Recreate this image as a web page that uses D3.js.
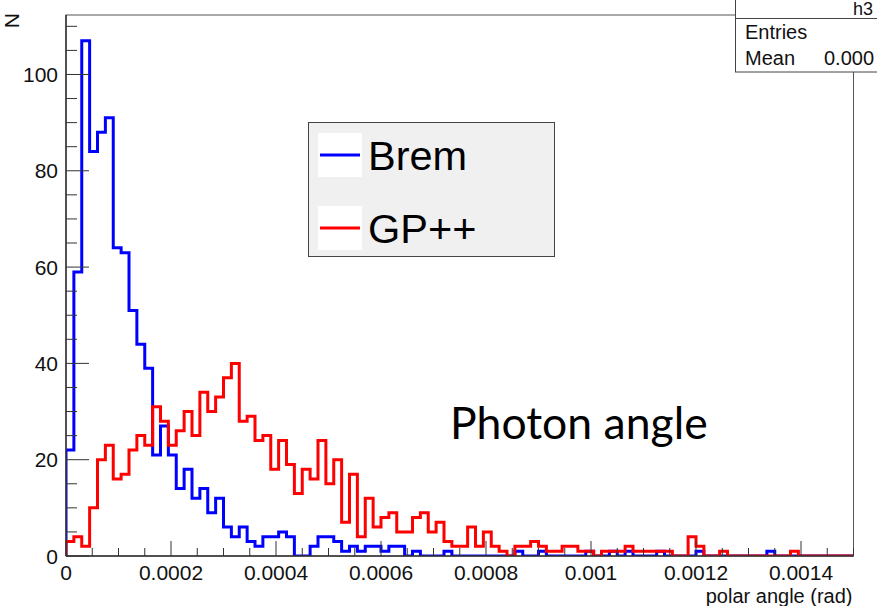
<!DOCTYPE html>
<html><head><meta charset="utf-8">
<script src="https://cdn.jsdelivr.net/npm/d3@7"></script>
<style>body{margin:0;background:#fff}svg{display:block}</style>
</head><body>
<svg id="c" width="877" height="606"></svg>
<script>
// ---- data ----
const nBins = 100;
const xMin = 0, xMax = 0.0015;
const yMax = 112.35;
const xTickValues = [0, 0.0002, 0.0004, 0.0006, 0.0008, 0.001, 0.0012, 0.0014];
const xTickLabels = ["0", "0.0002", "0.0004", "0.0006", "0.0008", "0.001", "0.0012", "0.0014"];
const yTickValues = [0, 20, 40, 60, 80, 100];
const yTickLabels = ["0", "20", "40", "60", "80", "100"];
const seriesNames = ["Brem", "GP++"];
const seriesColors = ["#0000ff", "#ff0000"];
const bremCounts = [22,59,107,84,88,91,64,63,51,44, 39,21,27,21,14,18,12,14,9,12,
  6,4,6,3,2,4,4,5,4,0, 0,2,4,4,3,1,2,1,2,2, 1,2,2,0,1,0,0,0,1,0,
  0,0,0,0,0,0,0,1,0,0, 1,0,0,0,0,0,1,0,0,1, 0,1,0,0,0,1,0,0,0,0,
  1,0,0,0,0,0,0,0,0,1, 0,0,0,0,0,0,0,0,0,0];
const gppCounts = [3,4,2,10,20,23,16,17,22,25, 23,31,28,23,26,30,25,34,30,33,
  37,40,28,29,24,25,18,24,19,13, 18,16,24,15,20,7,17,4,12,6, 8,9,5,5,8,9,5,7,3,2,
  2,6,2,5,2,1,0,2,2,3, 2,1,1,2,2,1,1,0,1,1, 1,2,1,1,1,1,1,0,0,4,
  2,0,0,1,0,0,0,0,0,0, 0,0,1,0,0,0,0,0,0,0];
const statsTitle = "h3";
const statsRows = [["Entries", ""], ["Mean", "0.000"]];
const xTitle = "polar angle (rad)";
const yTitle = "N";
const annotation = "Photon angle";

// ---- layout ----
const L = 66, R = 853.5, T = 15, B = 556;
const svg = d3.select("#c");
const x = d3.scaleLinear().domain([xMin, xMax]).range([L, R]);
const y = d3.scaleLinear().domain([0, yMax]).range([B, T]);
const bw = (xMax - xMin) / nBins;
const AX = "#333";
const F = "'Liberation Sans', Arial, Helvetica, sans-serif";

svg.append("defs").append("clipPath").attr("id","clip")
  .append("rect").attr("x", L).attr("y", T - 2).attr("width", R - L).attr("height", B - T + 2);

// frame
svg.append("rect").attr("x", L).attr("y", T).attr("width", R - L).attr("height", B - T)
  .attr("fill", "none").attr("stroke", "#555").attr("stroke-width", 1);

// histograms
function histPath(counts) {
  let p = d3.path();
  p.moveTo(x(0), y(0));
  counts.forEach((c, i) => {
    p.lineTo(x(i * bw), y(c));
    p.lineTo(x((i + 1) * bw), y(c));
  });
  p.lineTo(x(nBins * bw), y(0));
  return p.toString();
}
const hg = svg.append("g").attr("clip-path", "url(#clip)");
[bremCounts, gppCounts].forEach((c, k) => {
  hg.append("path").attr("d", histPath(c)).attr("fill", "none")
    .attr("stroke", seriesColors[k]).attr("stroke-width", 3).attr("stroke-linejoin", "miter");
});

// x axis
const xa = svg.append("g").attr("transform", `translate(0,${B})`);
xa.append("line").attr("x1", L).attr("x2", R).attr("stroke", AX).attr("stroke-width", 1.5);
const xMinor = d3.range(0, 31).map(i => i * 0.00005);
xMinor.forEach((v, i) => {
  const major = i % 4 === 0;
  xa.append("line").attr("x1", x(v)).attr("x2", x(v)).attr("y1", 0).attr("y2", major ? -15 : -8)
    .attr("stroke", AX).attr("stroke-width", 1);
});
xTickValues.forEach((v, i) => {
  xa.append("text").attr("x", x(v)).attr("y", 24).attr("text-anchor", "middle")
    .attr("font-family", F).attr("font-size", 21).attr("fill", "#111").text(xTickLabels[i]);
});
svg.append("text").attr("x", R - 1).attr("y", 602.5).attr("text-anchor", "end")
  .attr("font-family", F).attr("font-size", 20).attr("fill", "#111").text(xTitle);

// y axis
const ya = svg.append("g").attr("transform", `translate(${L},0)`);
ya.append("line").attr("y1", T).attr("y2", B).attr("stroke", AX).attr("stroke-width", 1.5);
d3.range(0, 23).map(i => i * 5).filter(v => v <= yMax).forEach(v => {
  const major = v % 20 === 0;
  ya.append("line").attr("x1", 0).attr("x2", major ? 23 : 11).attr("y1", y(v)).attr("y2", y(v))
    .attr("stroke", AX).attr("stroke-width", 1);
});
yTickValues.forEach((v, i) => {
  ya.append("text").attr("x", -8).attr("y", y(v) + 7.5).attr("text-anchor", "end")
    .attr("font-family", F).attr("font-size", 21).attr("fill", "#111").text(yTickLabels[i]);
});
svg.append("text").attr("transform", "translate(19,13) rotate(-90)").attr("text-anchor", "end")
  .attr("font-family", F).attr("font-size", 21).attr("fill", "#111").text(yTitle);

// legend
const lg = svg.append("g");
lg.append("rect").attr("x", 308.5).attr("y", 122.5).attr("width", 246).attr("height", 134)
  .attr("fill", "#f0f0f0").attr("stroke", "#444").attr("stroke-width", 1);
seriesNames.forEach((n, k) => {
  const cy = 155 + k * 73;
  lg.append("rect").attr("x", 318).attr("y", cy - 22).attr("width", 44).attr("height", 44).attr("fill", "#fff");
  lg.append("line").attr("x1", 320).attr("x2", 360).attr("y1", cy).attr("y2", cy)
    .attr("stroke", seriesColors[k]).attr("stroke-width", 3);
  lg.append("text").attr("x", 368).attr("y", cy + 15).attr("font-family", F).attr("font-size", 41.5)
    .attr("fill", "#000").text(n);
});

// annotation
svg.append("text").attr("x", 450).attr("y", 439).attr("font-family", "Lato, 'Open Sans', sans-serif")
  .attr("font-size", 44.5).attr("fill", "#000").text(annotation);

// stats box
const sb = svg.append("g");
sb.append("rect").attr("x", 735.5).attr("y", -10).attr("width", 200).attr("height", 82)
  .attr("fill", "#fff").attr("stroke", "#444").attr("stroke-width", 1);
sb.append("line").attr("x1", 735.5).attr("x2", 940).attr("y1", 18.5).attr("y2", 18.5).attr("stroke", "#444");
sb.append("text").attr("x", 863).attr("y", 15).attr("text-anchor", "middle").attr("font-family", F)
  .attr("font-size", 18).attr("fill", "#111").text(statsTitle);
statsRows.forEach((r, k) => {
  sb.append("text").attr("x", 745).attr("y", 39 + k * 26).attr("font-family", F).attr("font-size", 20)
    .attr("fill", "#111").text(r[0]);
  sb.append("text").attr("x", 824).attr("y", 39 + k * 26).attr("font-family", F).attr("font-size", 20)
    .attr("fill", "#111").text(r[1]);
});
</script>
</body></html>
